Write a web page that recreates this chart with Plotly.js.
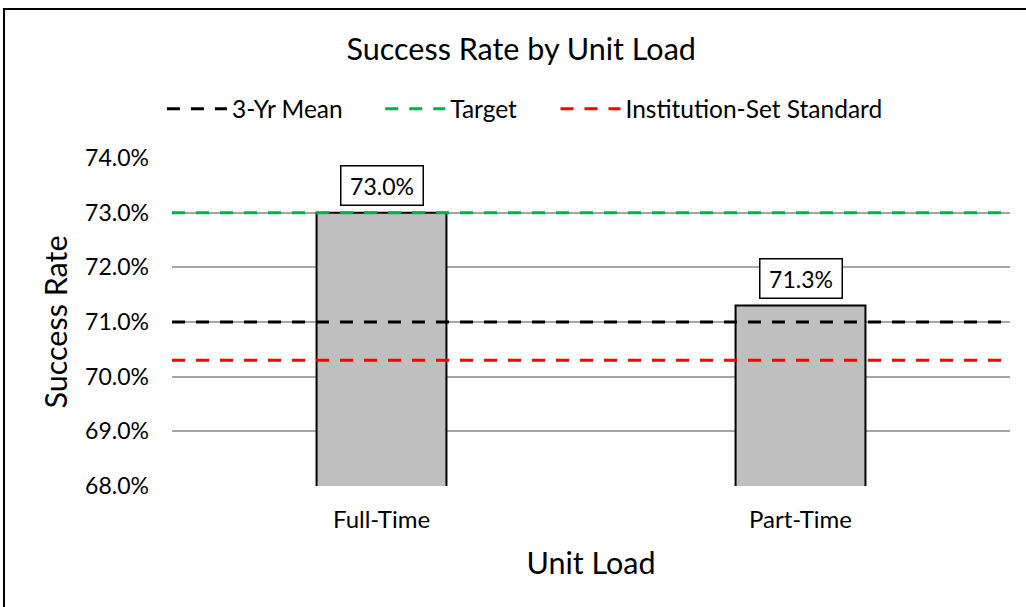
<!DOCTYPE html>
<html>
<head>
<meta charset="utf-8">
<script src="https://cdn.plot.ly/plotly-3.0.1.min.js"></script>
<style>
html,body{margin:0;padding:0;background:#fff;}
#wrap{position:relative;width:1026px;height:607px;overflow:hidden;}
#chart{width:1026px;height:607px;}
#frame{position:absolute;left:3px;top:8px;width:1100px;height:700px;border-left:2px solid #000;border-top:2px solid #000;pointer-events:none;}
</style>
</head>
<body>
<div id="wrap"><div id="chart"></div><div id="frame"></div></div>
<script>
const categories = ["Full-Time", "Part-Time"];
const successRates = [73.0, 71.3];
const meanLabel = "3-Yr Mean";
const meanValue = 71.0;
const targetLabel = "Target";
const targetValue = 73.0;
const standardLabel = "Institution-Set Standard";
const standardValue = 70.3;
const yTickValues = [68, 69, 70, 71, 72, 73, 74];

const font = "Lato, 'Open Sans', sans-serif";

const bars = {
  type: "bar",
  x: categories,
  y: successRates,
  base: 0,
  marker: {color: "#BFBFBF", line: {color: "#000000", width: 2}},
  width: 0.31,
  showlegend: false,
  hoverinfo: "x+y"
};

function refLine(name, value, color, legendId) {
  return {
    type: "scatter",
    mode: "lines",
    name: name,
    x: [0, 1],
    y: [value, value],
    xaxis: "x2",
    legend: legendId,
    line: {color: color, width: 3, dash: "13px,11px"}
  };
}

const traces = [
  bars,
  refLine(meanLabel, meanValue, "#000000", "legend"),
  refLine(targetLabel, targetValue, "#00B050", "legend2"),
  refLine(standardLabel, standardValue, "#FF0000", "legend3")
];

const annotations = categories.map((c, i) => ({
  x: c, y: successRates[i], xref: "x", yref: "y",
  text: successRates[i].toFixed(1) + "%",
  showarrow: false, yanchor: "bottom", yshift: 7,
  width: 79, height: 36, align: "center", valign: "middle",
  font: {family: font, size: 23, color: "#000"},
  bordercolor: "#000", borderwidth: 1.5, borderpad: 1, bgcolor: "#fff"
}));

function legendAt(xPaper) {
  return {orientation: "h", x: xPaper, xanchor: "left", y: 1.15, yanchor: "middle",
          font: {family: font, size: 24.5, color: "#000"},
          itemwidth: 60, bgcolor: "rgba(0,0,0,0)"};
}

const layout = {
  width: 1026, height: 607,
  paper_bgcolor: "#fff", plot_bgcolor: "#fff",
  margin: {l: 172, r: 16, t: 158, b: 121},
  title: {text: "Success Rate by Unit Load", x: 0.508, xanchor: "center", y: 0.918, yanchor: "middle",
          font: {family: font, size: 30.5, color: "#000"}},
  showlegend: true,
  legend: legendAt(-0.012),
  legend2: legendAt(0.2485),
  legend3: legendAt(0.4576),
  bargap: 0.69,
  xaxis: {
    type: "category", showgrid: false, zeroline: false, showline: false, ticks: "",
    tickfont: {family: font, size: 24, color: "#000"},
    ticklabelstandoff: 17,
    title: {text: "Unit Load", font: {family: font, size: 30.5, color: "#000"}, standoff: 20}
  },
  xaxis2: {overlaying: "x", range: [0, 1], visible: false, fixedrange: true},
  yaxis: {
    range: [68, 74], tickvals: yTickValues,
    ticktext: yTickValues.map(v => v.toFixed(1) + "%"),
    showgrid: true, gridcolor: "#A6A6A6", gridwidth: 2,
    zeroline: false, showline: false, ticks: "",
    tickfont: {family: font, size: 23, color: "#000"},
    ticklabelstandoff: 22,
    title: {text: "Success Rate", font: {family: font, size: 30.5, color: "#000"}, standoff: 8}
  },
  annotations: annotations
};

Plotly.newPlot("chart", traces, layout, {displayModeBar: false, staticPlot: true});
</script>
</body>
</html>
